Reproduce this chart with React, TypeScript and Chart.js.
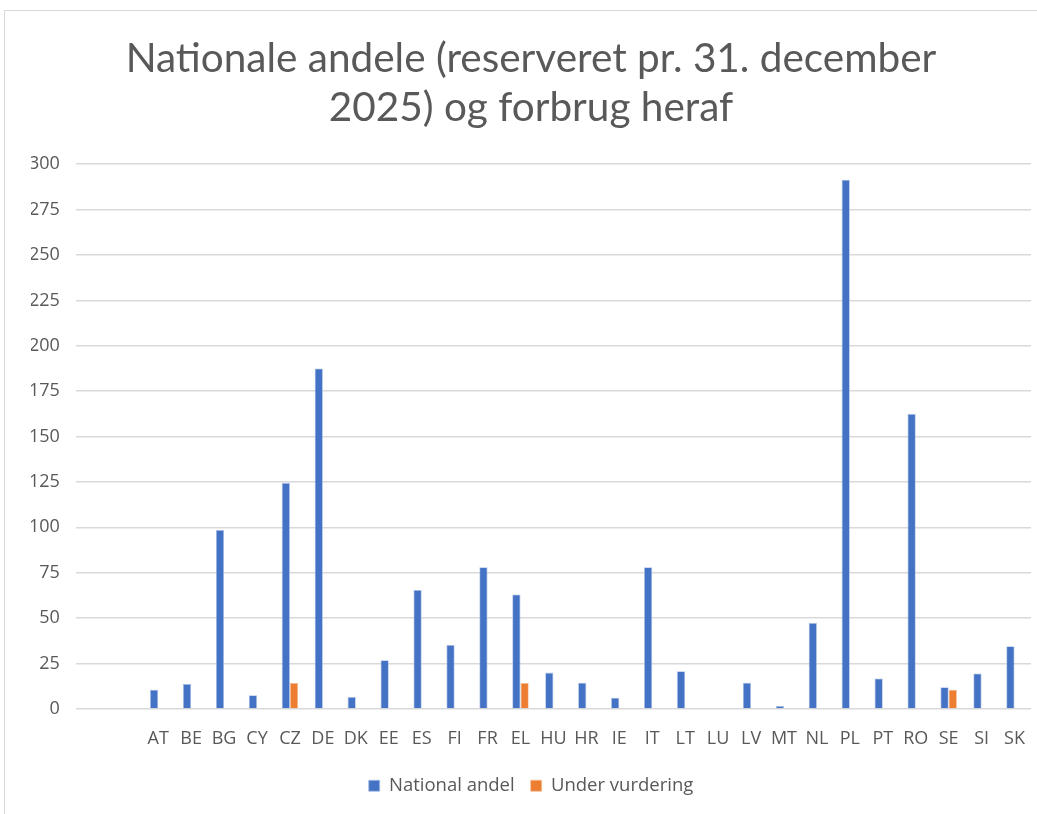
import React, { useEffect, useRef } from "react";
import { Chart, registerables } from "chart.js";

Chart.register(...registerables);

const categories = ["", "", "AT", "BE", "BG", "CY", "CZ", "DE", "DK", "EE", "ES", "FI", "FR", "EL", "HU", "HR", "IE", "IT", "LT", "LU", "LV", "MT", "NL", "PL", "PT", "RO", "SE", "SI", "SK"];
const nationalAndel = [null, null, 10.6, 13.7, 98.5, 7.5, 124.5, 187.5, 6.6, 26.8, 65.5, 35.2, 78, 63, 20, 14.4, 6.2, 78, 20.8, 0, 14.4, 1.6, 47.3, 291.5, 16.8, 162.5, 11.9, 19.5, 34.5];
const underVurdering = [null, null, null, null, null, null, 14.3, null, null, null, null, null, null, 14.3, null, null, null, null, null, null, null, null, null, null, null, null, 10.6, null, null];
const titleLines = ["Nationale andele (reserveret pr. 31. december", "2025) og forbrug heraf"];
const yTicks = { min: 0, max: 300, step: 25 };

const TITLE_FONT = "Lato";
const FONT = "Open Sans";
const TEXT = "#595959";
const SHIFT = 18;

export default function App() {
  const ref = useRef<HTMLCanvasElement | null>(null);
  useEffect(() => {
    if (!ref.current) return;
    const chart = new Chart(ref.current, {
      type: "bar",
      data: {
        labels: categories,
        datasets: [
          { label: "National andel", data: nationalAndel, backgroundColor: "#4472C4", borderColor: "#A9BFE6", borderWidth: 0.8 },
          { label: "Under vurdering", data: underVurdering, backgroundColor: "#ED7D31", borderColor: "#F5BE98", borderWidth: 0.8 },
        ],
      },
      options: {
        animation: false,
        responsive: false,
        maintainAspectRatio: false,
        layout: { padding: { left: 8 + SHIFT, right: 6, top: 24, bottom: 10 } },
        datasets: { bar: { categoryPercentage: 0.5, barPercentage: 1.0 } },
        plugins: {
          title: {
            display: true,
            text: titleLines,
            color: TEXT,
            font: { family: TITLE_FONT, size: 40.5, weight: "normal" },
            lineHeight: 1.17,
            padding: { top: 0, bottom: 32 },
          },
          legend: {
            position: "bottom",
            labels: {
              color: TEXT,
              font: { family: FONT, size: 18.5 },
              boxWidth: 11,
              boxHeight: 11,
              padding: 16,
            },
          },
          tooltip: { enabled: false },
        },
        scales: {
          x: {
            grid: { display: false },
            border: { display: false },
            ticks: { color: TEXT, font: { family: FONT, size: 18 }, maxRotation: 0, autoSkip: false, padding: 11 },
          },
          y: {
            min: yTicks.min,
            max: yTicks.max,
            grid: { color: "#D9D9D9", lineWidth: 1.5, drawTicks: false },
            border: { display: false },
            ticks: { stepSize: yTicks.step, color: TEXT, font: { family: FONT, size: 18 }, padding: 16 },
            afterFit: (axis: any) => { axis.width = axis.width - SHIFT; },
          },
        },
      },
    });
    return () => chart.destroy();
  }, []);
  return (
    <div style={{ position: "absolute", left: 0, top: 0, width: 1037, height: 814, background: "#fff" }}>
      <div style={{ position: "absolute", left: 4, top: 10, width: 1040, height: 810, border: "1px solid #D9D9D9", boxSizing: "border-box" }} />
      <canvas ref={ref} width={1032} height={804} style={{ position: "absolute", left: 5, top: 11 }} />
    </div>
  );
}
